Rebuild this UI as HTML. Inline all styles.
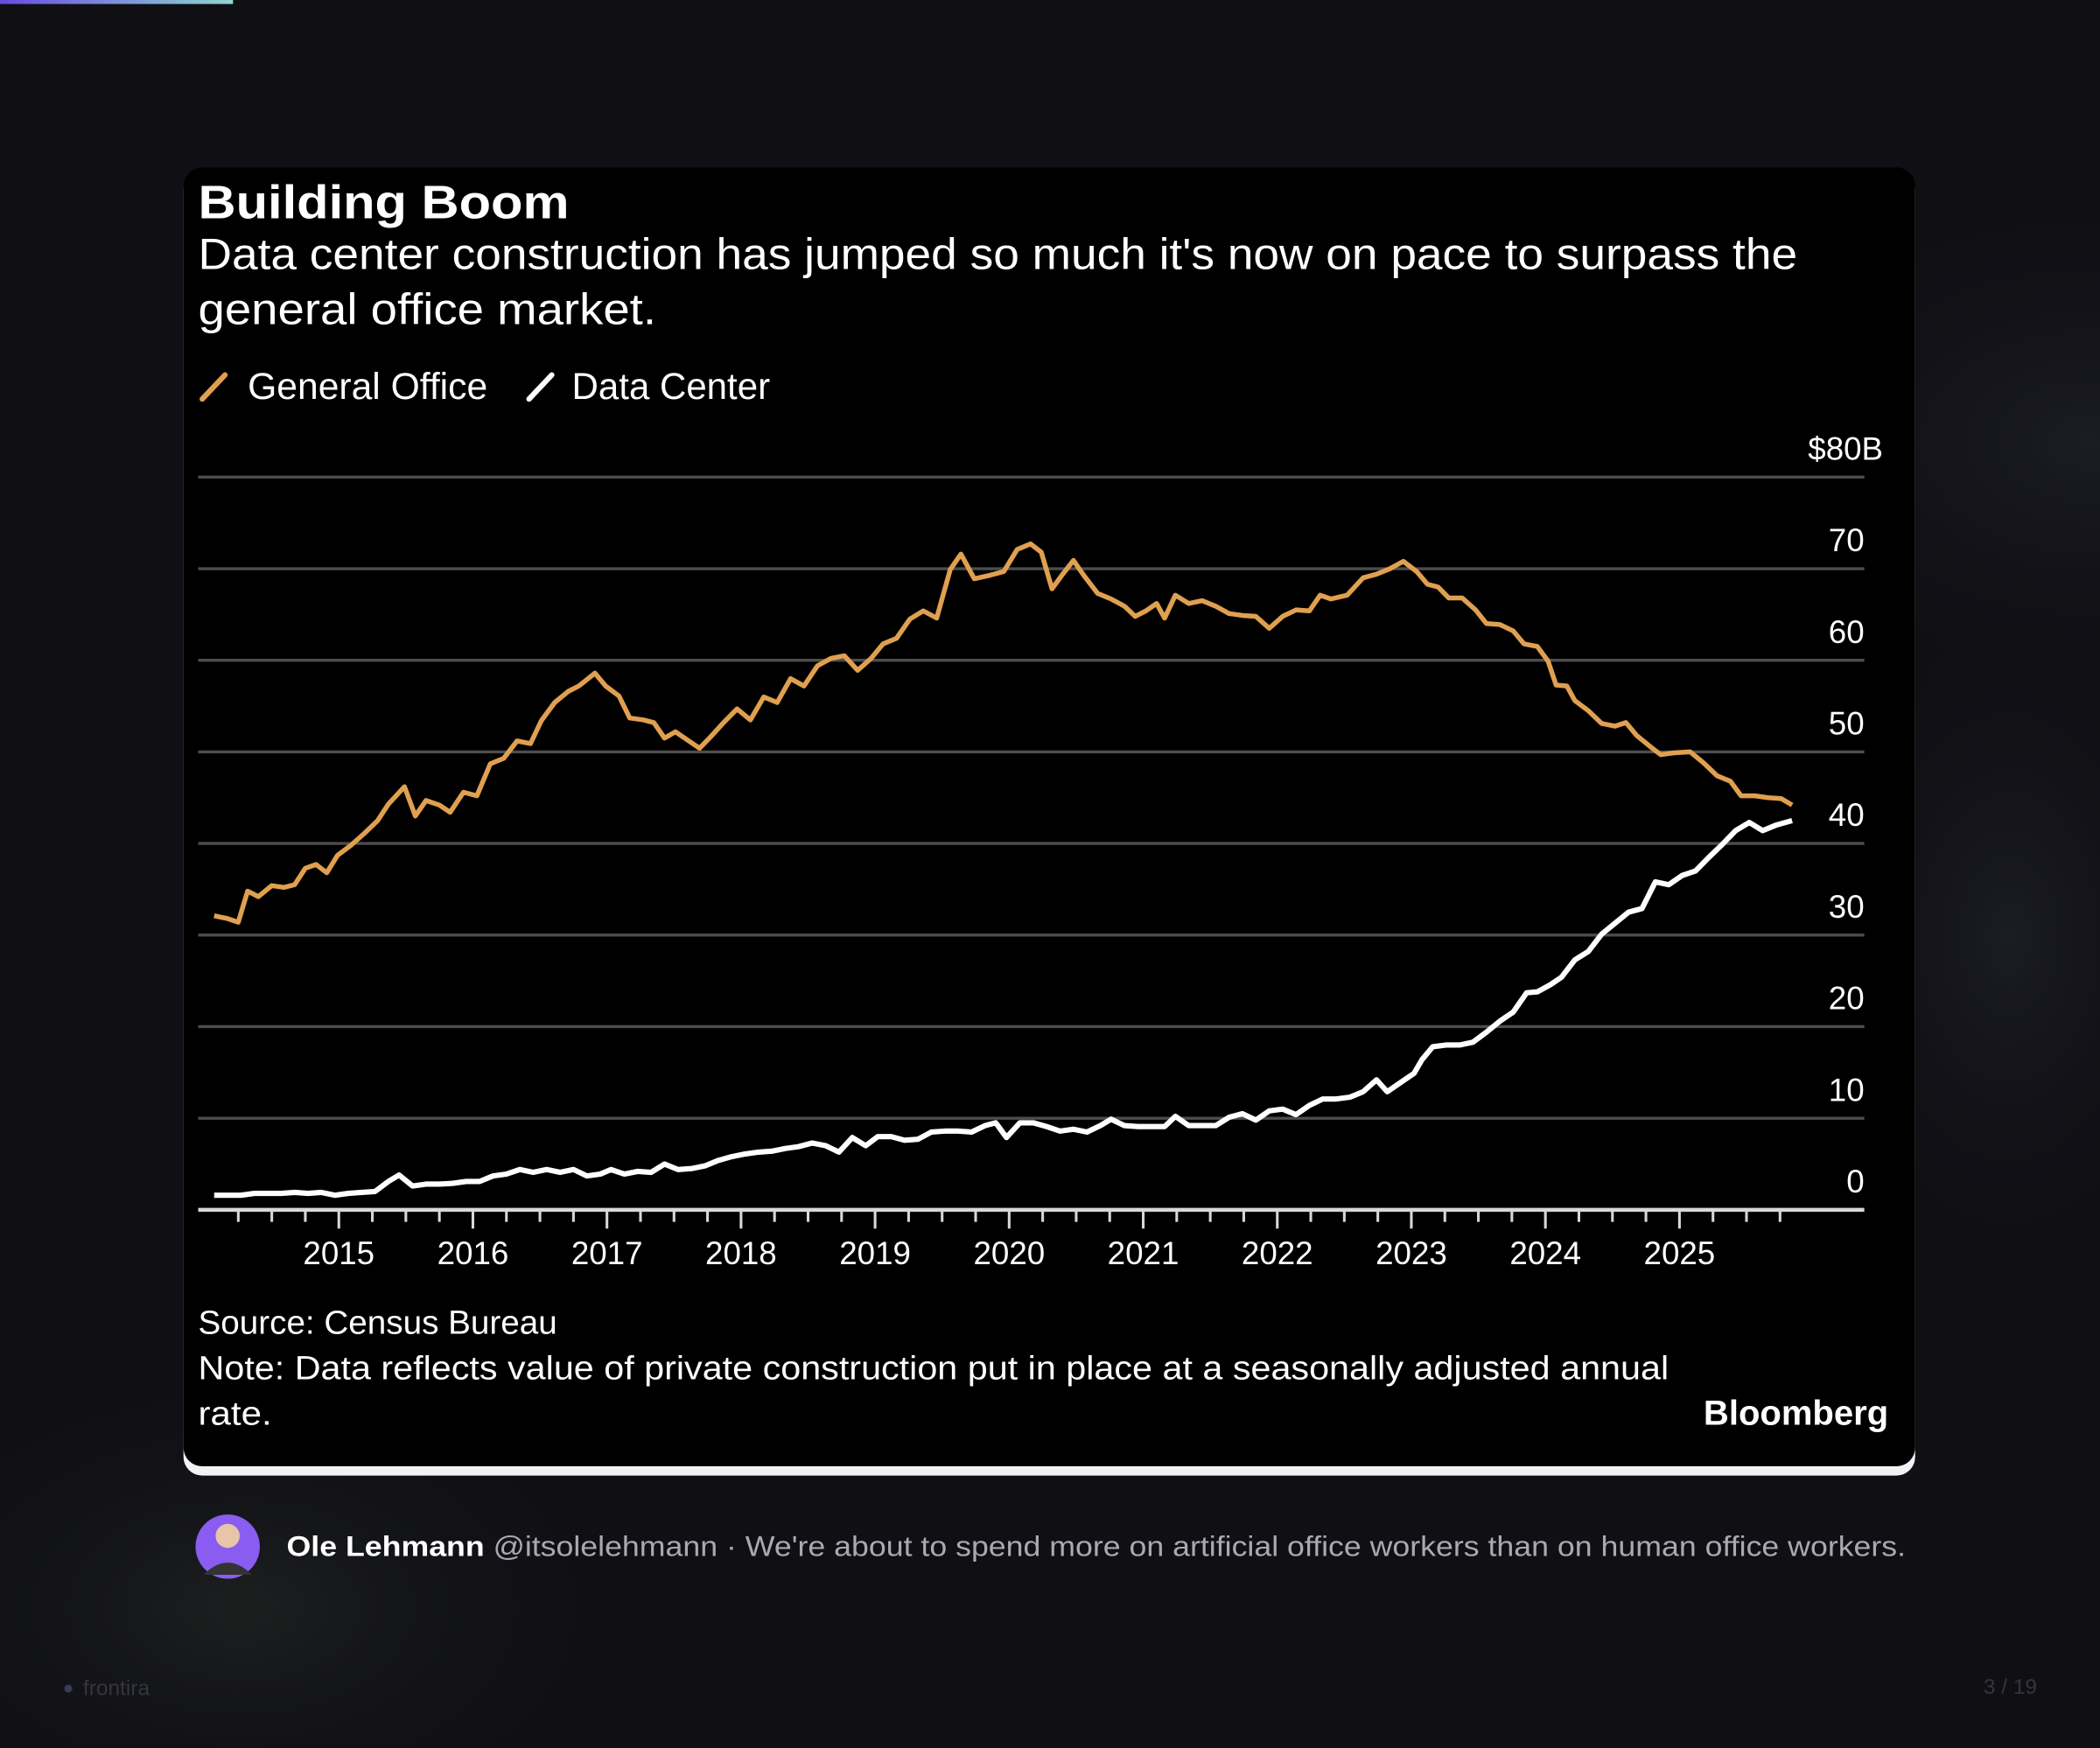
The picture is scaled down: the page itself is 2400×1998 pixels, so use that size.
<!DOCTYPE html>
<html><head><meta charset="utf-8"><style>
html,body{margin:0;padding:0;background:#0f0f14;width:2400px;height:1998px;overflow:hidden;}
#svg{display:block;position:absolute;left:0;top:0;}
svg text{font-family:"Liberation Sans","DejaVu Sans",sans-serif;}
</style></head><body>
<svg id="svg" width="2400" height="1998" viewBox="0 0 1568 1305.4" preserveAspectRatio="none" xmlns="http://www.w3.org/2000/svg">
<defs>
<linearGradient id="topbar" x1="0" x2="1"><stop offset="0" stop-color="#6a4be0"/><stop offset="1" stop-color="#8fd6d0"/></linearGradient>
<radialGradient id="glowR" cx="0.5" cy="0.5" r="0.5"><stop offset="0" stop-color="#1c1c24"/><stop offset="1" stop-color="#0f0f14" stop-opacity="0"/></radialGradient>
<radialGradient id="glowL" cx="0.5" cy="0.5" r="0.5"><stop offset="0" stop-color="#1d1f1f"/><stop offset="1" stop-color="#0f0f14" stop-opacity="0"/></radialGradient>
</defs>
<rect x="0" y="0" width="1568" height="1305.4" fill="#0f0f14"/>
<ellipse cx="1560" cy="330" rx="300" ry="200" fill="url(#glowR)"/>
<ellipse cx="1500" cy="700" rx="160" ry="260" fill="url(#glowR)"/>
<ellipse cx="180" cy="1200" rx="320" ry="200" fill="url(#glowL)"/>
<rect x="0" y="0" width="174" height="3" fill="url(#topbar)"/>

<rect x="137" y="127" width="1293" height="975" rx="14" fill="#f2f2f2"/>
<rect x="137" y="125" width="1293" height="970" rx="14" fill="#000"/>

<text x="148" y="163" font-size="35" font-weight="bold" fill="#fff" textLength="277" lengthAdjust="spacingAndGlyphs">Building Boom</text>
<text x="148" y="201" font-size="33" fill="#fff" textLength="1194" lengthAdjust="spacingAndGlyphs">Data center construction has jumped so much it's now on pace to surpass the</text>
<text x="148" y="242" font-size="33" fill="#fff" textLength="342" lengthAdjust="spacingAndGlyphs">general office market.</text>

<g>
<line x1="151" y1="298" x2="168" y2="280" stroke="#e0a050" stroke-width="4" stroke-linecap="round"/>
<text x="185" y="298" font-size="28" fill="#fff" textLength="179" lengthAdjust="spacingAndGlyphs">General Office</text>
<line x1="395" y1="298" x2="412" y2="280" stroke="#fff" stroke-width="4" stroke-linecap="round"/>
<text x="427" y="298" font-size="28" fill="#fff" textLength="148" lengthAdjust="spacingAndGlyphs">Data Center</text>
</g>

<g id="plot"></g>

<text x="148" y="996" font-size="25" fill="#fff" textLength="268" lengthAdjust="spacingAndGlyphs">Source: Census Bureau</text>
<text x="148" y="1030" font-size="25" fill="#fff" textLength="1098" lengthAdjust="spacingAndGlyphs">Note: Data reflects value of private construction put in place at a seasonally adjusted annual</text>
<text x="148" y="1064" font-size="25" fill="#fff" textLength="55" lengthAdjust="spacingAndGlyphs">rate.</text>
<text x="1410" y="1064" font-size="26" font-weight="bold" fill="#fff" text-anchor="end" textLength="138" lengthAdjust="spacingAndGlyphs">Bloomberg</text>

<g>
<circle cx="170" cy="1155" r="24" fill="#8a5cf0"/>
<circle cx="170" cy="1147" r="9" fill="#e8c4a8"/>
<path d="M152 1176 Q170 1158 188 1176 Z" fill="#333"/>
</g>
<text x="214" y="1162" font-size="21" fill="#a9a9b2" textLength="1209" lengthAdjust="spacingAndGlyphs"><tspan font-weight="bold" fill="#fff">Ole Lehmann</tspan> @itsolelehmann · We're about to spend more on artificial office workers than on human office workers.</text>

<circle cx="51" cy="1261" r="3" fill="#3a3a5a"/>
<text x="62" y="1266" font-size="16" fill="#35353f">frontira</text>
<text x="1521" y="1265" font-size="16" fill="#35353f" text-anchor="end">3 / 19</text>
</svg>
<script>
const yTicks = [0, 10, 20, 30, 40, 50, 60, 70, 80];
const yTickLabels = ["0", "10", "20", "30", "40", "50", "60", "70", "$80B"];
const xYears = [2015, 2016, 2017, 2018, 2019, 2020, 2021, 2022, 2023, 2024, 2025];
const officeDates = [2014.07,2014.17,2014.25,2014.32,2014.40,2014.50,2014.59,2014.67,2014.75,2014.83,2014.91,2014.99,2015.09,2015.19,2015.29,2015.37,2015.49,2015.57,2015.65,2015.75,2015.83,2015.93,2016.03,2016.13,2016.23,2016.33,2016.43,2016.51,2016.61,2016.71,2016.79,2016.91,2016.99,2017.09,2017.17,2017.27,2017.35,2017.43,2017.51,2017.61,2017.69,2017.77,2017.87,2017.97,2018.07,2018.17,2018.27,2018.37,2018.47,2018.57,2018.67,2018.77,2018.87,2018.97,2019.06,2019.16,2019.26,2019.36,2019.46,2019.56,2019.64,2019.74,2019.86,2019.96,2020.06,2020.16,2020.24,2020.32,2020.40,2020.48,2020.56,2020.66,2020.76,2020.86,2020.94,2021.02,2021.10,2021.16,2021.24,2021.34,2021.44,2021.54,2021.64,2021.74,2021.84,2021.94,2022.04,2022.14,2022.24,2022.32,2022.40,2022.52,2022.64,2022.74,2022.84,2022.94,2023.04,2023.12,2023.20,2023.28,2023.38,2023.48,2023.56,2023.66,2023.76,2023.84,2023.94,2024.02,2024.08,2024.16,2024.22,2024.32,2024.42,2024.52,2024.60,2024.68,2024.78,2024.86,2024.96,2025.08,2025.18,2025.28,2025.38,2025.46,2025.56,2025.66,2025.76,2025.84];
const officeValues = [32.1,31.8,31.4,34.8,34.2,35.4,35.2,35.5,37.3,37.7,36.8,38.7,39.8,41.1,42.5,44.3,46.2,43.0,44.7,44.2,43.4,45.6,45.2,48.7,49.3,51.2,50.9,53.4,55.4,56.6,57.2,58.6,57.2,56.1,53.7,53.5,53.2,51.5,52.2,51.2,50.4,51.6,53.2,54.7,53.5,56.0,55.4,58.0,57.2,59.4,60.2,60.5,58.9,60.2,61.8,62.4,64.5,65.4,64.6,69.9,71.6,68.9,69.3,69.7,72.1,72.7,71.8,67.8,69.4,70.9,69.2,67.3,66.7,65.9,64.8,65.4,66.2,64.6,67.1,66.2,66.5,65.9,65.1,64.9,64.8,63.5,64.8,65.5,65.4,67.1,66.7,67.1,69.0,69.4,70.0,70.8,69.7,68.3,68.0,66.8,66.8,65.5,64.0,63.9,63.2,61.8,61.5,59.9,57.3,57.2,55.6,54.5,53.1,52.8,53.2,51.8,50.6,49.7,49.9,50.0,48.8,47.4,46.8,45.2,45.2,45.0,44.9,44.2];
const dcDates = [2014.07,2014.17,2014.27,2014.37,2014.47,2014.57,2014.67,2014.77,2014.87,2014.97,2015.07,2015.17,2015.27,2015.37,2015.45,2015.55,2015.65,2015.75,2015.85,2015.95,2016.05,2016.15,2016.25,2016.35,2016.45,2016.55,2016.65,2016.75,2016.85,2016.95,2017.03,2017.13,2017.23,2017.33,2017.43,2017.53,2017.63,2017.73,2017.83,2017.93,2018.03,2018.13,2018.23,2018.33,2018.43,2018.53,2018.63,2018.73,2018.83,2018.93,2019.02,2019.12,2019.22,2019.32,2019.42,2019.52,2019.62,2019.72,2019.82,2019.90,2019.98,2020.08,2020.18,2020.28,2020.38,2020.48,2020.58,2020.68,2020.76,2020.86,2020.96,2021.06,2021.16,2021.24,2021.34,2021.44,2021.54,2021.64,2021.74,2021.84,2021.94,2022.04,2022.14,2022.24,2022.34,2022.44,2022.54,2022.64,2022.74,2022.82,2022.92,2023.02,2023.08,2023.16,2023.26,2023.36,2023.46,2023.56,2023.66,2023.76,2023.86,2023.94,2024.04,2024.12,2024.22,2024.32,2024.42,2024.52,2024.62,2024.72,2024.82,2024.92,2025.02,2025.12,2025.22,2025.32,2025.42,2025.52,2025.62,2025.72,2025.84];
const dcValues = [1.6,1.6,1.6,1.8,1.8,1.8,1.9,1.8,1.9,1.6,1.8,1.9,2.0,3.1,3.8,2.6,2.8,2.8,2.9,3.1,3.1,3.7,3.9,4.4,4.1,4.4,4.1,4.4,3.7,3.9,4.4,3.9,4.2,4.1,5.0,4.4,4.5,4.8,5.4,5.8,6.1,6.3,6.4,6.7,6.9,7.3,7.0,6.3,7.9,7.0,8.0,8.0,7.6,7.7,8.5,8.6,8.6,8.5,9.2,9.5,7.9,9.5,9.5,9.1,8.6,8.8,8.5,9.2,9.9,9.2,9.1,9.1,9.1,10.2,9.2,9.2,9.2,10.1,10.5,9.8,10.8,11.0,10.4,11.4,12.1,12.1,12.3,12.9,14.2,12.9,13.9,14.9,16.4,17.8,18.0,18.0,18.3,19.4,20.6,21.6,23.7,23.8,24.6,25.4,27.3,28.2,30.1,31.3,32.5,32.9,35.8,35.5,36.5,37.0,38.5,39.9,41.4,42.3,41.4,42.0,42.5];

const NS = "http://www.w3.org/2000/svg";
const plot = document.getElementById('plot');
const X0 = 148, X1 = 1392, Y0 = 903.5, PXPERUNIT = 6.84;
function xScale(year) { return 253 + (year - 2015) * 100.1; }
function yScale(v) { return Y0 - v * PXPERUNIT; }
function mk(tag, attrs) { const e = document.createElementNS(NS, tag); for (const k in attrs) e.setAttribute(k, attrs[k]); return e; }

yTicks.forEach((t, i) => {
  if (t > 0) {
    const g = mk('line', {x1: X0, x2: X1, y1: yScale(t), y2: yScale(t), stroke: '#4d4d4d', 'stroke-width': 2.2});
    
    
    plot.appendChild(g);
  }
  const lab = mk('text', {x: t === 80 ? 1406 : 1392, y: yScale(t) - 13, 'font-size': 24, fill: '#fff', 'text-anchor': 'end'});
  lab.textContent = yTickLabels[i];
  
  
  plot.appendChild(lab);
});

const axis = mk('line', {x1: X0, x2: X1, y1: Y0, y2: Y0, stroke: '#d8d8d8', 'stroke-width': 3});


plot.appendChild(axis);

for (let q = 2014.25; q <= 2025.76; q += 0.25) {
  const major = Math.abs(q - Math.round(q)) < 0.01;
  const tk = mk('line', {x1: xScale(q), x2: xScale(q), y1: Y0, y2: Y0 + (major ? 14 : 9), stroke: '#d8d8d8', 'stroke-width': 2});
  
  
  plot.appendChild(tk);
}
xYears.forEach(yr => {
  const lab = mk('text', {x: xScale(yr), y: 944, 'font-size': 24, fill: '#fff', 'text-anchor': 'middle'});
  lab.textContent = String(yr);
  
  
  plot.appendChild(lab);
});

function linePath(dates, vals) {
  return dates.map((d, i) => (i ? 'L' : 'M') + xScale(d).toFixed(1) + ' ' + yScale(vals[i]).toFixed(1)).join(' ');
}
const office = mk('path', {d: linePath(officeDates, officeValues), fill: 'none', stroke: '#e0a050', 'stroke-width': 3.6, 'stroke-linejoin': 'round'});


plot.appendChild(office);
const dc = mk('path', {d: linePath(dcDates, dcValues), fill: 'none', stroke: '#ffffff', 'stroke-width': 4, 'stroke-linejoin': 'round'});


plot.appendChild(dc);
</script>
</body></html>
